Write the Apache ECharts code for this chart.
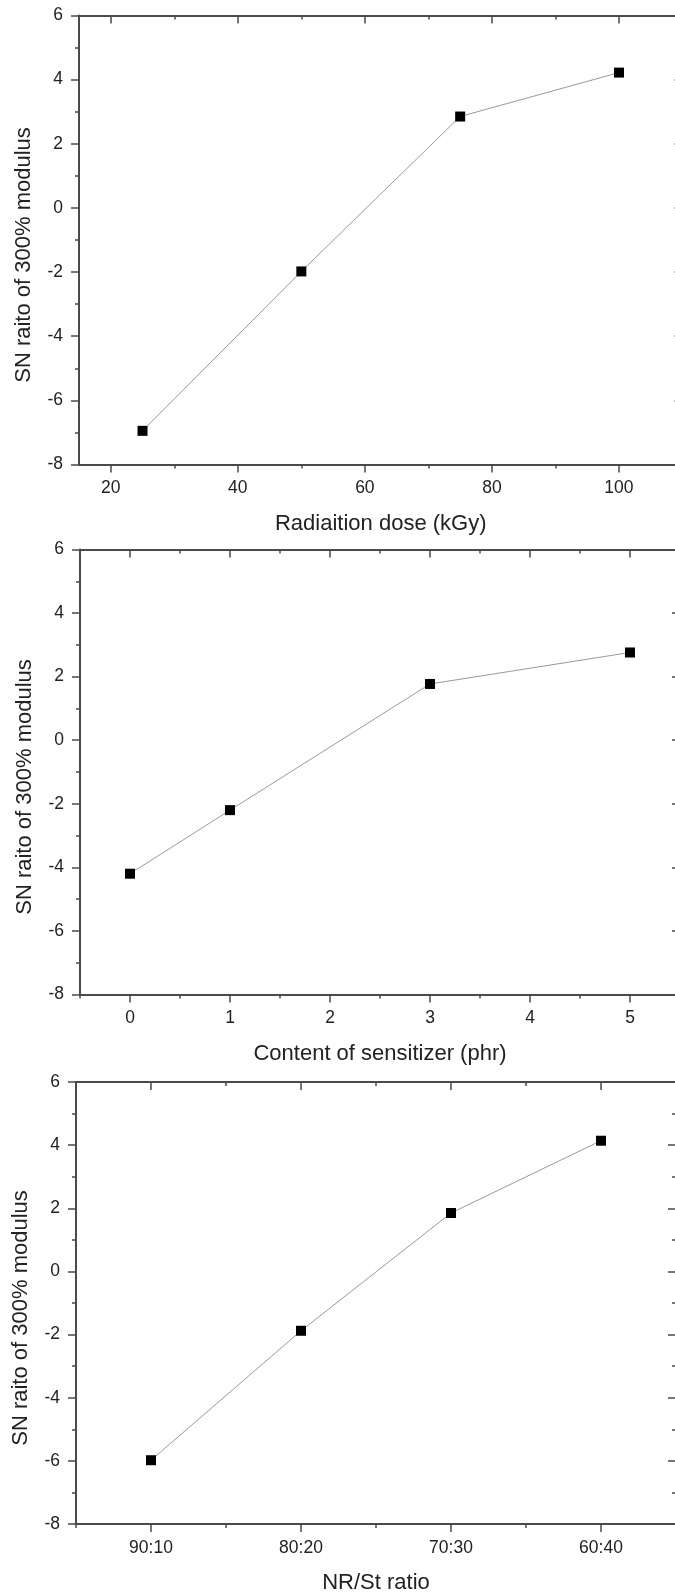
<!DOCTYPE html>
<html>
<head>
<meta charset="utf-8">
<title>SN ratio of 300% modulus</title>
<style>
html, body { margin: 0; padding: 0; overflow: hidden; background: #fff; }
#main { width: 690px; height: 1595px; }
</style>
</head>
<body>
<div id="main"></div>
<script src="https://cdn.jsdelivr.net/npm/echarts@6/dist/echarts.min.js"></script>
<script>
// y axis is the same on all three panels
var yMin = -8, yMax = 6, yStep = 2;
var yName = 'SN raito of 300% modulus';

// panel 1 - radiation dose
var doseX = [25, 50, 75, 100];
var doseSN = [-6.95, -1.98, 2.85, 4.22];
var doseMajor = [20, 40, 60, 80, 100];
var doseMinor = [30, 50, 70, 90];

// panel 2 - sensitizer content
var sensX = [0, 1, 3, 5];
var sensSN = [-4.2, -2.2, 1.77, 2.76];
var sensMajor = [0, 1, 2, 3, 4, 5];
var sensMinor = [-0.5, 0.5, 1.5, 2.5, 3.5, 4.5, 5.5];

// panel 3 - NR/St ratio
var ratioLabels = ['90:10', '80:20', '70:30', '60:40'];
var ratioX = [1, 2, 3, 4];
var ratioSN = [-5.98, -1.88, 1.85, 4.14];
var ratioMajor = [1, 2, 3, 4];
var ratioMinor = [0.5, 1.5, 2.5, 3.5, 4.5];

var panels = [
    {name: 'Radiaition dose (kGy)', x: doseX, y: doseSN, min: 15, max: 110,
     major: doseMajor, minor: doseMinor, box: [79, 15.5, 603.5, 449]},
    {name: 'Content of sensitizer (phr)', x: sensX, y: sensSN, min: -0.5, max: 5.5,
     major: sensMajor, minor: sensMinor, box: [80, 549.5, 600, 445]},
    {name: 'NR/St ratio', x: ratioX, y: ratioSN, min: 0.5, max: 4.5,
     major: ratioMajor, minor: ratioMinor, box: [76, 1082, 600, 444],
     fmt: function (v) { var i = ratioX.indexOf(v); return i < 0 ? '' : ratioLabels[i]; }}
];

var axisColor = '#4a4a4a';
var textColor = '#222';
var font = '"Liberation Sans", Arial, sans-serif';

function makeX(g, p, pos, values, len, main) {
    var showLine = main;
    var ax = {
        type: 'value', gridIndex: g, position: pos, min: p.min, max: p.max,
        axisLine: {show: showLine, onZero: false, lineStyle: {color: axisColor, width: 2}},
        axisTick: {show: true, inside: pos === 'top', length: len, customValues: values,
                   lineStyle: {color: axisColor, width: 1.5}},
        axisLabel: {show: false},
        splitLine: {show: false}
    };
    if (main && pos === 'bottom') {
        ax.axisLabel = {show: true, customValues: values, margin: 15, color: textColor,
                        fontSize: 17.5, fontFamily: font, formatter: p.fmt};
        ax.name = p.name;
        ax.nameLocation = 'middle';
        ax.nameGap = 48;
        ax.nameTextStyle = {color: textColor, fontSize: 22, fontFamily: font};
    }
    return ax;
}

function makeY(g, pos) {
    var ax = {
        type: 'value', gridIndex: g, position: pos, min: yMin, max: yMax, interval: yStep,
        axisLine: {show: true, onZero: false, lineStyle: {color: axisColor, width: 2}},
        axisTick: {show: true, inside: pos === 'right', length: 8,
                   lineStyle: {color: axisColor, width: 1.5}},
        minorTick: {show: true, splitNumber: 2, length: 4,
                    lineStyle: {color: axisColor, width: 1.5}},
        axisLabel: {show: false},
        splitLine: {show: false}
    };
    if (pos === 'left') {
        ax.axisLabel = {show: true, margin: 16, color: textColor, fontSize: 17.5, fontFamily: font};
        ax.name = yName;
        ax.nameLocation = 'middle';
        ax.nameGap = 44;
        ax.nameTextStyle = {color: textColor, fontSize: 22, fontFamily: font, padding: [0, 30, 0, 0]};
    }
    return ax;
}

var grids = [], xAxes = [], yAxes = [], series = [];
panels.forEach(function (p, g) {
    grids.push({left: p.box[0], top: p.box[1], width: p.box[2], height: p.box[3]});
    xAxes.push(makeX(g, p, 'bottom', p.major, 8, true));
    xAxes.push(makeX(g, p, 'bottom', p.minor, 4, false));
    xAxes.push(makeX(g, p, 'top', p.major, 8, true));
    xAxes.push(makeX(g, p, 'top', p.minor, 4, false));
    yAxes.push(makeY(g, 'left'));
    yAxes.push(makeY(g, 'right'));
    series.push({
        type: 'line', xAxisIndex: g * 4, yAxisIndex: g * 2,
        data: p.x.map(function (v, i) { return [v, p.y[i]]; }),
        symbol: 'rect', symbolSize: 10,
        itemStyle: {color: '#000'},
        lineStyle: {color: '#9a9a9a', width: 1},
        z: 5
    });
});

var myChart = echarts.init(document.getElementById('main'));
myChart.setOption({
    animation: false,
    backgroundColor: '#fff',
    grid: grids,
    xAxis: xAxes,
    yAxis: yAxes,
    series: series
});
</script>
</body>
</html>
